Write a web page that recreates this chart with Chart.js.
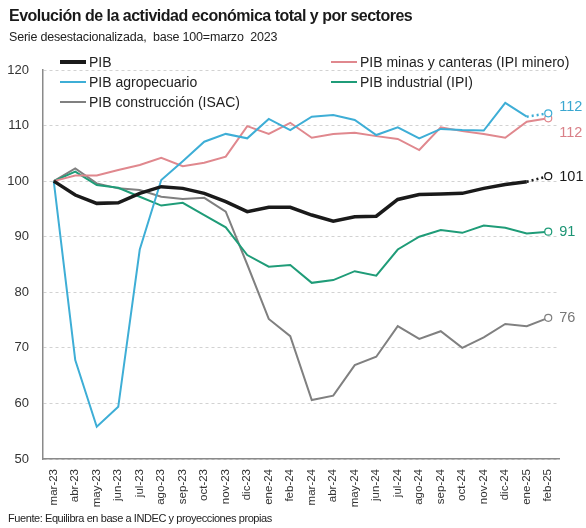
<!DOCTYPE html>
<html>
<head>
<meta charset="utf-8">
<script src="https://cdn.jsdelivr.net/npm/chart.js@4/dist/chart.umd.min.js"></script>
<style>
  html, body { margin: 0; padding: 0; background: #fff; }
  body { width: 586px; height: 528px; position: relative; overflow: hidden; font-family: "Liberation Sans", Arial, sans-serif; color: #1a1a1a; }
  #wrap { position: absolute; left: 0; top: 0; width: 586px; height: 528px; }
  .title { position: absolute; left: 9px; top: 7px; font-size: 16px; letter-spacing: -0.5px; font-weight: bold; white-space: nowrap; }
  .sub { position: absolute; left: 9px; top: 30px; font-size: 12.5px; letter-spacing: -0.2px; white-space: pre; color: #222; }
  .src { position: absolute; left: 8px; top: 512px; font-size: 11px; letter-spacing: -0.42px; white-space: nowrap; color: #222; }
  .leg { position: absolute; font-size: 14px; white-space: nowrap; color: #222; line-height: 16px; }
  .leg i { display: inline-block; width: 26px; vertical-align: middle; margin-right: 3px; position: relative; top: -1px; }
</style>
</head>
<body>
<div id="wrap"><canvas id="c" width="586" height="528"></canvas></div>
<div class="title">Evolución de la actividad económica total y por sectores</div>
<div class="sub">Serie desestacionalizada,  base 100=marzo  2023</div>
<div id="legend"></div>
<div class="src">Fuente: Equilibra en base a INDEC y proyecciones propias</div>
<script>
var months = ["mar-23", "abr-23", "may-23", "jun-23", "jul-23", "ago-23", "sep-23", "oct-23", "nov-23", "dic-23", "ene-24", "feb-24",
              "mar-24", "abr-24", "may-24", "jun-24", "jul-24", "ago-24", "sep-24", "oct-24", "nov-24", "dic-24", "ene-25", "feb-25"];

var pib          = [100, 97.5, 96.0, 96.1, 97.8, 99.0, 98.7, 97.8, 96.3, 94.5, 95.3, 95.3, 93.9, 92.8, 93.6, 93.7, 96.7, 97.6, 97.7, 97.8, 98.7, 99.4, 99.9, 100.9];
var minero       = [100, 101.0, 101.0, 102.0, 102.9, 104.2, 102.7, 103.3, 104.4, 109.9, 108.5, 110.5, 107.8, 108.5, 108.7, 108.1, 107.6, 105.6, 109.7, 109.0, 108.5, 107.8, 110.7, 111.3];
var agro         = [100, 67.8, 55.8, 59.4, 87.7, 100.2, 103.6, 107.1, 108.5, 107.7, 111.2, 109.2, 111.6, 111.9, 111.0, 108.3, 109.7, 107.7, 109.4, 109.2, 109.1, 114.1, 111.6, 112.2];
var industrial   = [100, 101.7, 99.3, 98.8, 97.2, 95.6, 96.1, 93.9, 91.7, 86.7, 84.6, 84.9, 81.7, 82.2, 83.8, 83.0, 87.7, 90.0, 91.2, 90.7, 92.0, 91.6, 90.6, 90.9];
var construccion = [100, 102.3, 99.6, 98.7, 98.4, 97.2, 96.8, 97.0, 94.5, 85.0, 75.2, 72.1, 60.6, 61.4, 66.9, 68.4, 73.9, 71.6, 73.0, 70.0, 71.9, 74.3, 73.9, 75.4];

var yTicks = [50, 60, 70, 80, 90, 100, 110, 120];

var SERIES = [
  { label: "PIB",                               data: pib,          color: "#1a1a1a", width: 3.5, dotted: true,  end: "101", endColor: "#1a1a1a", dy: 1,  leg: [60, 62] },
  { label: "PIB agropecuario",                  data: agro,         color: "#3eaed6", width: 2,   dotted: true,  end: "112", endColor: "#3aa7d0", dy: -6, leg: [60, 82] },
  { label: "PIB minas y canteras (IPI minero)", data: minero,       color: "#e0888e", width: 2,   dotted: false, end: "112", endColor: "#d98088", dy: 15, leg: [331, 62] },
  { label: "PIB industrial (IPI)",              data: industrial,   color: "#1f9c78", width: 2,   dotted: false, end: "91",  endColor: "#1c9474", dy: 0,  leg: [331, 82] },
  { label: "PIB construcción (ISAC)",           data: construccion, color: "#808080", width: 2,   dotted: false, end: "76",  endColor: "#777777", dy: 0,  leg: [60, 102] }
];

var last = months.length - 1;

// leyenda en html, dos columnas
var legendEl = document.getElementById("legend");
for (var i = 0; i < SERIES.length; i++) {
  var s = SERIES[i];
  var d = document.createElement("div");
  d.className = "leg";
  d.style.left = s.leg[0] + "px";
  d.style.top = (s.leg[1] - 8) + "px";
  d.innerHTML = '<i style="border-top:' + (s.width > 2 ? 4 : 2) + 'px solid ' + s.color + '"></i>' + s.label;
  legendEl.appendChild(d);
}

var endLabels = {
  id: "endLabels",
  afterDatasetsDraw: function (chart) {
    var ctx = chart.ctx;
    ctx.save();
    ctx.font = "14.5px 'Liberation Sans', Arial, sans-serif";
    ctx.textBaseline = "middle";
    ctx.textAlign = "left";
    for (var i = 0; i < SERIES.length; i++) {
      var pt = chart.getDatasetMeta(i).data[last];
      ctx.fillStyle = SERIES[i].endColor;
      ctx.fillText(SERIES[i].end, pt.x + 11, pt.y + SERIES[i].dy);
    }
    ctx.restore();
  }
};

var datasets = [];
for (var j = 0; j < SERIES.length; j++) {
  (function (s) {
    datasets.push({
      label: s.label,
      data: s.data,
      borderColor: s.color,
      borderWidth: s.width,
      tension: 0,
      fill: false,
      pointRadius: s.data.map(function (v, k) { return k === last ? 3.5 : 0; }),
      pointBackgroundColor: "#fff",
      pointBorderColor: s.color,
      pointBorderWidth: 1.2,
      segment: {
        borderDash: function (c) { return (s.dotted && c.p1DataIndex === last) ? [2, 3] : undefined; },
        borderWidth: function (c) { return (s.dotted && c.p1DataIndex === last) ? 2.5 : undefined; }
      }
    });
  })(SERIES[j]);
}

new Chart(document.getElementById("c"), {
  type: "line",
  data: { labels: months, datasets: datasets },
  options: {
    responsive: false,
    animation: false,
    devicePixelRatio: 1,
    layout: { padding: { top: 70, right: 27, left: 0, bottom: 0 } },
    plugins: { legend: { display: false }, tooltip: { enabled: false } },
    scales: {
      x: {
        offset: true,
        grid: { display: false, drawTicks: false },
        border: { color: "#8a8a8a", width: 1.5 },
        ticks: { color: "#333", font: { family: "'Liberation Sans', Arial", size: 11.5 }, minRotation: 90, maxRotation: 90, padding: 10, autoSkip: false },
        afterFit: function (sc) { sc.height = 69; }
      },
      y: {
        min: 50, max: 120,
        afterBuildTicks: function (sc) { sc.ticks = yTicks.map(function (v) { return { value: v }; }); },
        grid: { color: "#d2d2d2", lineWidth: 1, drawTicks: false },
        border: { color: "#8a8a8a", width: 1.5, dash: [3, 3] },
        ticks: { color: "#333", font: { family: "'Liberation Sans', Arial", size: 13 }, padding: 14 },
        afterFit: function (sc) { sc.width = 43; }
      }
    }
  },
  plugins: [endLabels]
});
</script>
</body>
</html>
